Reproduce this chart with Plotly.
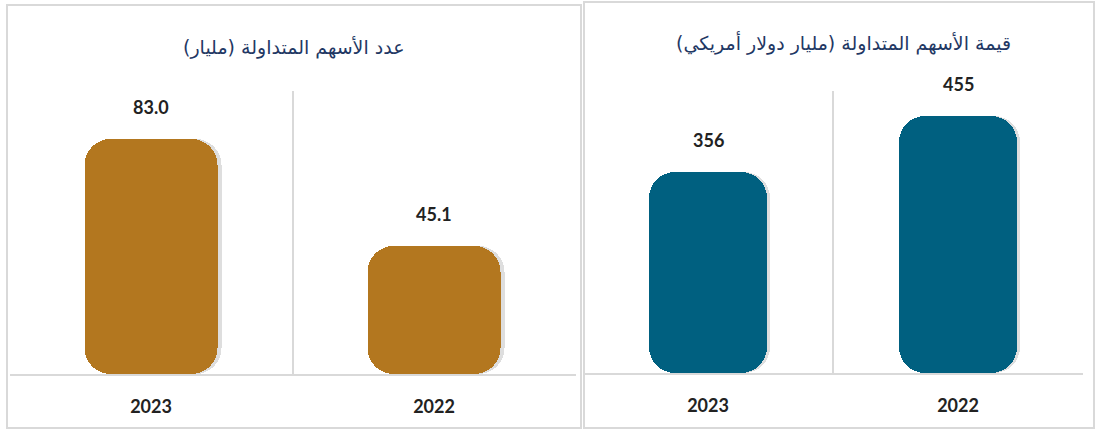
import plotly.graph_objects as go
from plotly.subplots import make_subplots

# ---- data ----
years = ["2023", "2022"]
shares_count = [83.0, 45.1]          # عدد الأسهم المتداولة (مليار)
shares_value = [356, 455]            # قيمة الأسهم المتداولة (مليار دولار أمريكي)
count_labels = ["83.0", "45.1"]
value_labels = ["356", "455"]
title_left = "عدد الأسهم المتداولة (مليار)"
title_right = "قيمة الأسهم المتداولة (مليار دولار أمريكي)"

GOLD = "#B3771F"
TEAL = "#006080"
GRID = "#d9d9d9"
TXT = "#222222"
TITLE_C = "#1F3864"
W, H = 1096, 430
BW = 0.47
SH = 0.014

fig = make_subplots(rows=1, cols=2, horizontal_spacing=0.0)


def add_bars(vals, color, col):
    zero = [0 for _ in vals]
    fig.add_trace(go.Bar(x=years, y=vals, base=zero, width=BW, offset=-BW / 2 + SH,
                         marker=dict(color="rgba(90,90,90,0.20)", cornerradius=26,
                                     line=dict(width=0)),
                         hoverinfo="skip", showlegend=False), row=1, col=col)
    fig.add_trace(go.Bar(x=years, y=vals, base=zero, width=BW, offset=-BW / 2,
                         marker=dict(color=color, cornerradius=26, line=dict(width=0)),
                         showlegend=False), row=1, col=col)


add_bars(shares_count, GOLD, 1)
add_bars(shares_value, TEAL, 2)

lab_font = dict(family="Lato", size=18, color=TXT, weight="bold")
annos = []
for i, (v, t) in enumerate(zip(shares_count, count_labels)):
    annos.append(dict(x=i, y=v, xref="x", yref="y", text=t, showarrow=False,
                      xanchor="center", yanchor="middle", yshift=32, font=lab_font))
for i, (v, t) in enumerate(zip(shares_value, value_labels)):
    annos.append(dict(x=i, y=v, xref="x2", yref="y2", text=t, showarrow=False,
                      xanchor="center", yanchor="middle", yshift=32, font=lab_font))
annos.append(dict(x=294 / W, y=1 - 47 / H, xref="paper", yref="paper", text=title_left,
                  xanchor="center", yanchor="middle", showarrow=False,
                  font=dict(family="DejaVu Sans", size=19, color=TITLE_C)))
annos.append(dict(x=843 / W, y=1 - 43 / H, xref="paper", yref="paper", text=title_right,
                  xanchor="center", yanchor="middle", showarrow=False,
                  font=dict(family="DejaVu Sans", size=19, color=TITLE_C)))

shapes = [
    dict(type="rect", xref="paper", yref="paper", x0=7 / W, x1=581 / W,
         y0=1 - 428 / H, y1=1 - 5 / H, line=dict(color=GRID, width=2), layer="below"),
    dict(type="rect", xref="paper", yref="paper", x0=584 / W, x1=1094 / W,
         y0=1 - 428 / H, y1=1 - 2 / H, line=dict(color=GRID, width=2), layer="below"),
]

fig.update_layout(
    width=W, height=H, margin=dict(l=0, r=0, t=0, b=0),
    paper_bgcolor="white", plot_bgcolor="white",
    barmode="overlay", bargap=0,
    annotations=annos, shapes=shapes,
    font=dict(family="Lato", color=TXT),
)

xcommon = dict(type="category", categoryorder="array", categoryarray=years,
               range=[-0.5, 1.5], showgrid=True, gridcolor=GRID, gridwidth=2,
               tickson="boundaries", ticks="", showline=True, linecolor=GRID, linewidth=2,
               ticklabelstandoff=15,
               tickfont=dict(family="Lato", size=18, color=TXT, weight="bold"))
fig.update_xaxes(**xcommon)
fig.update_layout(
    xaxis=dict(domain=[9.5 / W, 575.5 / W]),
    xaxis2=dict(domain=[583 / W, 1083 / W]),
    yaxis=dict(domain=[1 - 374 / H, 1 - 91 / H], range=[0, 100], showgrid=False,
               showticklabels=False, zeroline=False, fixedrange=True),
    yaxis2=dict(domain=[1 - 373 / H, 1 - 91 / H], range=[0, 500], showgrid=False,
                showticklabels=False, zeroline=False, fixedrange=True),
)

fig.write_html("out.html", config={"displayModeBar": False},
               post_script="document.body.style.margin='0';document.body.style.overflow='hidden';")
